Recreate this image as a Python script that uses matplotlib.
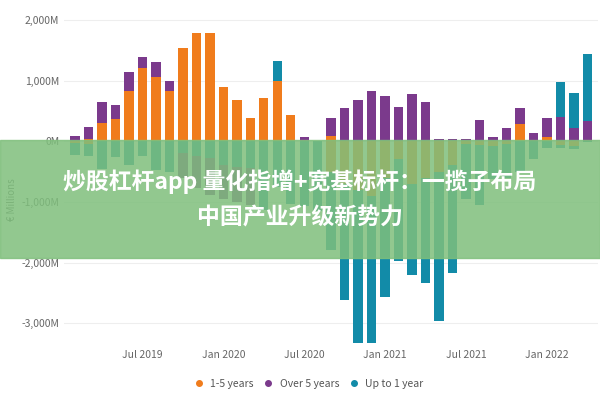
import numpy as np
import matplotlib.pyplot as plt
import matplotlib.patches as mpatches

plt.rcParams['font.family'] = ['Noto Sans CJK SC', 'DejaVu Sans']

# monthly, Feb 2019 .. Apr 2022 (values in M EUR)
months = list(range(39))
tick_pos = [5, 11, 17, 23, 29, 35]
tick_labels = ['Jul 2019', 'Jan 2020', 'Jul 2020', 'Jan 2021', 'Jul 2021', 'Jan 2022']

mid_pos = [0, 40, 300, 360, 820, 1200, 1050, 820, 1540, 1780, 1780, 900, 680, 380, 720, 990, 430, 0,
           0, 80, 0, 0, 0, 0, 0, 0, 0, 0, 0, 0, 0, 0, 0, 280, 0, 70, 0, 0, 10]
over_pos = [80, 200, 340, 240, 320, 180, 250, 170, 0, 0, 0, 0, 0, 0, 0, 0, 0, 70,
            0, 310, 540, 680, 820, 740, 570, 770, 650, 30, 30, 30, 350, 70, 210, 260, 130, 320, 400, 210, 320]
short_pos = [0, 0, 0, 0, 0, 0, 0, 0, 0, 0, 0, 0, 0, 0, 0, 340, 0, 0,
             0, 0, 0, 0, 0, 0, 0, 0, 0, 0, 0, 0, 0, 0, 0, 0, 0, 0, 570, 580, 1100]

mid_neg = [-30, -40, 0, 0, 0, 0, 0, 0, 0, 0, 0, 0, 0, 0, 0, 0, 0, 0,
           0, -500, -700, -800, -900, -600, -300, -700, -600, -500, -400, -50, -60, -80, -50, 0, 0, 0, -60, -80, 0]
short_neg = [-200, -210, -460, -260, -400, -240, -470, -500, -200, -250, -280, -400, -420, -450, -1130, -750, -1040, -1070,
             -1150, -1300, -1920, -2530, -2430, -1970, -1670, -1500, -1740, -2470, -1780, -900, -1000, -550, -550, -500, -300, -120, -50, -50, -20]
over_neg = [0, 0, 0, 0, 0, 0, 0, 0, -400, -530, -600, -550, -580, -600, 0, 0, 0, 0,
            0, 0, 0, 0, 0, 0, 0, 0, 0, 0, 0, 0, 0, 0, 0, 0, 0, 0, 0, 0, 0]

c_mid, c_over, c_short = '#f07c1c', '#7b3a8c', '#128ba8'

fig = plt.figure(figsize=(6, 4), dpi=100)
ax = fig.add_axes([0.107, 0.1375, 0.89, 0.85])

x = np.array(months)
w = 0.7
mp, op, sp = map(np.array, (mid_pos, over_pos, short_pos))
ax.bar(x, mp, w, color=c_mid)
ax.bar(x, op, w, bottom=mp, color=c_over)
ax.bar(x, sp, w, bottom=mp + op, color=c_short)
mn, sn, on = map(np.array, (mid_neg, short_neg, over_neg))
ax.bar(x, mn, w, color=c_mid)
ax.bar(x, sn, w, bottom=mn, color=c_short)
ax.bar(x, on, w, bottom=mn + sn, color=c_over)

ax.set_xlim(-0.8, 38.8)
ax.set_ylim(-3360, 2245)
ax.set_yticks([2000, 1000, 0, -1000, -2000, -3000])
ax.set_yticklabels(['2,000M', '1,000M', '0M', '-1,000M', '-2,000M', '-3,000M'])
ax.set_xticks(tick_pos)
ax.set_xticklabels(tick_labels)
ax.tick_params(length=0, labelsize=7.5, labelcolor='#666666')
ax.grid(axis='y', color='#eeeeee', lw=0.8)
ax.set_axisbelow(True)
for s in ax.spines.values():
    s.set_visible(False)
fig.text(0.012, 0.5, '€ Millions', rotation=90, fontsize=7, color='#666666', va='center')

handles = [plt.Line2D([], [], marker='o', ls='', color=c, markersize=4) for c in (c_mid, c_over, c_short)]
fig.legend(handles, ['1-5 years', 'Over 5 years', 'Up to 1 year'], loc='center', bbox_to_anchor=(0.51, 0.04),
           ncol=3, frameon=False, fontsize=7.5, handletextpad=0.1, columnspacing=0.4, labelcolor='#555555')

# banner
fig.patches.append(mpatches.Rectangle((0, 1 - 258 / 400), 1, 118 / 400, transform=fig.transFigure,
                                      color='#7fbf7c', alpha=0.85, zorder=5))
fig.text(0.5, 1 - 182 / 400, '炒股杠杆app 量化指增+宽基标杆：一揽子布局', ha='center', va='center',
         fontsize=16.5, fontweight='bold', color='white', zorder=6)
fig.text(0.5, 1 - 218 / 400, '中国产业升级新势力', ha='center', va='center',
         fontsize=16.5, fontweight='bold', color='white', zorder=6)

fig.savefig('out.png')
